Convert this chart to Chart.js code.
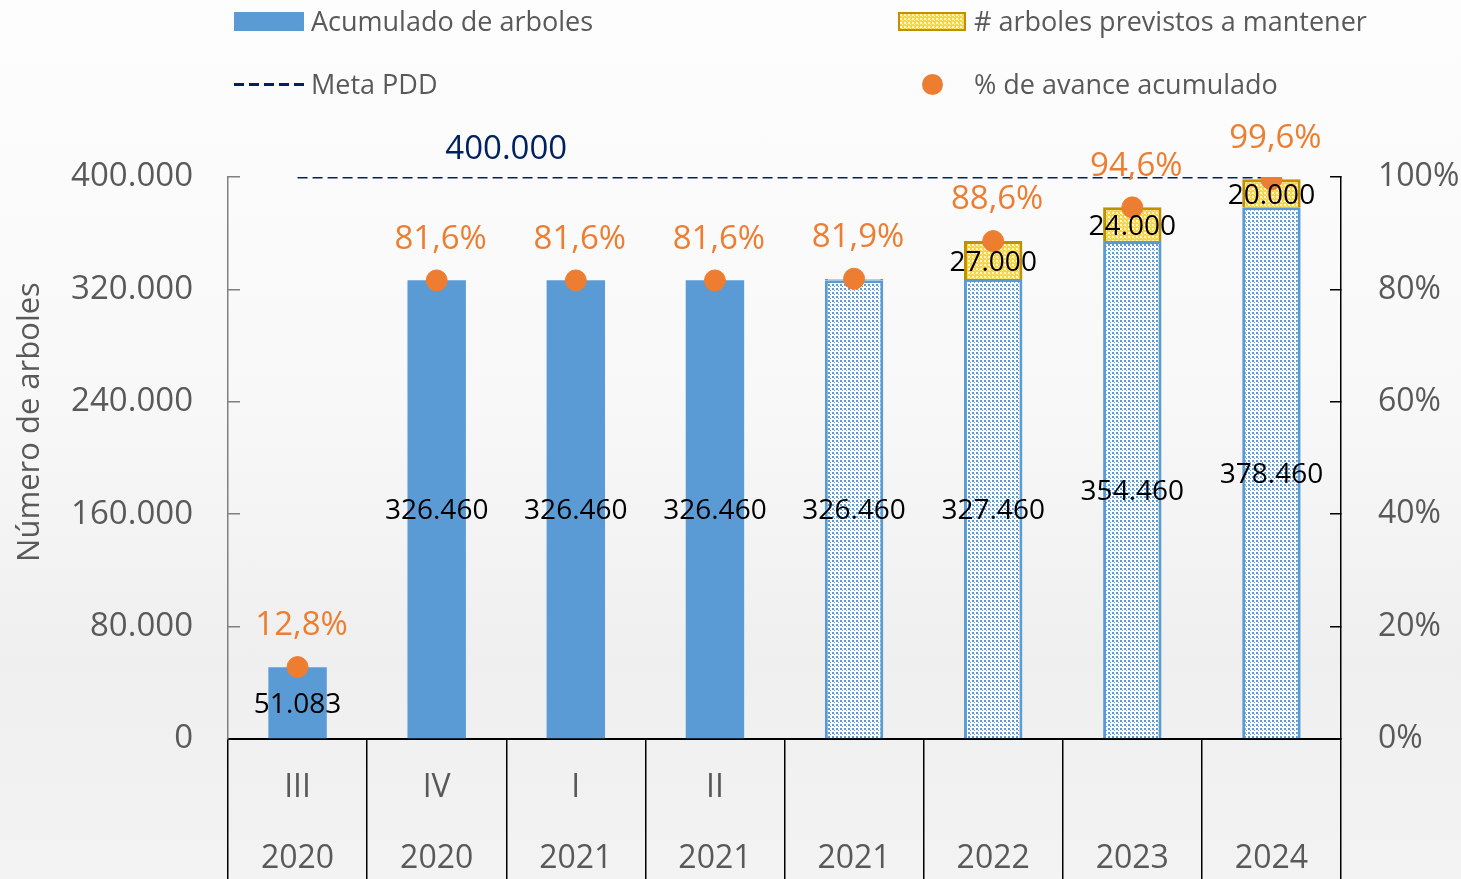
<!DOCTYPE html>
<html lang="es">
<head>
  <meta charset="UTF-8" />
  <title>Avance de arboles</title>
  <script src="https://cdn.jsdelivr.net/npm/chart.js"></script>
  <style>
    html, body {
      margin: 0;
      padding: 0;
    }
    body {
      width: 1461px;
      height: 879px;
      overflow: hidden;
      font-family: "Open Sans", sans-serif;
      background: linear-gradient(180deg, #fdfdfd 0%, #f8f8f8 45%, #efefef 75%, #f3f3f3 100%);
    }
    #wrap {
      position: relative;
      width: 1461px;
      height: 879px;
    }
    .ley {
      position: absolute;
      font-size: 27px;
      color: #595959;
      line-height: 1;
      white-space: nowrap;
    }
    .muestra {
      position: absolute;
    }
  </style>
</head>
<body>
  <div id="wrap">
    <canvas id="grafico" width="1461" height="879"></canvas>

    <div class="muestra" style="left:234px;top:12px;width:70px;height:19px;background:#5b9bd5;"></div>
    <div class="ley" style="left:311px;top:7px;">Acumulado de arboles</div>

    <div class="muestra" id="muestraAmarilla" style="left:898px;top:12px;width:64px;height:15px;border:2px solid #bf9000;"></div>
    <div class="ley" style="left:974px;top:7px;"># arboles previstos a mantener</div>

    <div class="muestra" style="left:234px;top:83px;width:72px;height:3px;background:repeating-linear-gradient(90deg, #002060 0 10px, transparent 10px 15px);"></div>
    <div class="ley" style="left:311px;top:70px;">Meta PDD</div>

    <div class="muestra" style="left:922px;top:74px;width:21px;height:21px;border-radius:50%;background:#ed7d31;"></div>
    <div class="ley" style="left:974px;top:70px;">% de avance acumulado</div>
  </div>

  <script>
    const periodos = [["III", "2020"], ["IV", "2020"], ["I", "2021"], ["II", "2021"], ["", "2021"], ["", "2022"], ["", "2023"], ["", "2024"]];
    const acumulado = [51083, 326460, 326460, 326460, 326460, 327460, 354460, 378460];
    const previstos = [null, null, null, null, 1000, 27000, 24000, 20000];
    const meta = [400000, 400000, 400000, 400000, 400000, 400000, 400000, 400000];
    const avance = [0.128, 0.816, 0.816, 0.816, 0.819, 0.886, 0.946, 0.996];
    const proyectado = [false, false, false, false, true, true, true, true];

    const AZUL = "#5b9bd5";
    const AMARILLO = "#ffd23f";
    const ORO = "#bf9000";
    const NARANJA = "#ed7d31";
    const MARINO = "#002060";
    const GRIS = "#595959";
    const FUENTE = "'Open Sans', sans-serif";

    function miles(v) {
      return String(Math.round(v)).replace(/\B(?=(\d{3})+(?!\d))/g, ".");
    }
    function porcentaje(v) {
      return (v * 100).toFixed(1).replace(".", ",") + "%";
    }

    function lienzoPatron(fondo, punto) {
      const c = document.createElement("canvas");
      c.width = 4;
      c.height = 4;
      const g = c.getContext("2d");
      g.fillStyle = fondo;
      g.fillRect(0, 0, 4, 4);
      g.fillStyle = punto;
      g.fillRect(0, 0, 2, 2);
      g.fillRect(2, 2, 1, 1);
      return c;
    }

    const ctx = document.getElementById("grafico").getContext("2d");
    const patronAzul = ctx.createPattern(lienzoPatron("#ffffff", AZUL), "repeat");
    const lienzoAmarillo = lienzoPatron(AMARILLO, "#fff6cc");
    const patronAmarillo = ctx.createPattern(lienzoAmarillo, "repeat");
    document.getElementById("muestraAmarilla").style.background = "url(" + lienzoAmarillo.toDataURL() + ")";

    const etiquetas = {
      id: "etiquetas",
      afterDatasetsDraw(chart) {
        const c = chart.ctx;
        const x = chart.scales.x;
        const y = chart.scales.y;
        c.save();
        c.textAlign = "center";
        c.textBaseline = "middle";

        // valores acumulados
        c.fillStyle = "#000000";
        c.font = "28px " + FUENTE;
        chart.getDatasetMeta(0).data.forEach((el, i) => {
          c.fillText(miles(acumulado[i]), el.x, (el.y + el.base) / 2 + 2);
        });
        // arboles previstos
        chart.getDatasetMeta(1).data.forEach((el, i) => {
          if (previstos[i] == null || Math.abs(el.base - el.y) < 20) return;
          c.fillText(miles(previstos[i]), el.x, (el.y + el.base) / 2 + 3);
        });

        // % de avance
        c.fillStyle = NARANJA;
        c.font = "33px " + FUENTE;
        chart.getDatasetMeta(3).data.forEach((el, i) => {
          c.fillText(porcentaje(avance[i]), el.x + 4, el.y - 41);
        });

        // meta
        c.fillStyle = MARINO;
        c.font = "33px " + FUENTE;
        c.fillText(miles(meta[0]), x.getPixelForValue(1.5), y.getPixelForValue(meta[0]) - 27);

        // titulo eje y
        c.translate(30, 422);
        c.rotate(-Math.PI / 2);
        c.fillStyle = GRIS;
        c.font = "31px " + FUENTE;
        c.fillText("Número de arboles", 0, 0);
        c.restore();
      }
    };

    new Chart(ctx, {
      data: {
        labels: periodos,
        datasets: [
          {
            type: "bar",
            label: "Acumulado de arboles",
            data: acumulado,
            yAxisID: "y",
            stack: "arboles",
            backgroundColor: proyectado.map(p => p ? patronAzul : AZUL),
            borderColor: AZUL,
            borderWidth: proyectado.map(p => p ? 3 : 0),
            order: 2
          },
          {
            type: "bar",
            label: "# arboles previstos a mantener",
            data: previstos,
            yAxisID: "y",
            stack: "arboles",
            backgroundColor: patronAmarillo,
            borderColor: ORO,
            borderWidth: 3,
            order: 3
          },
          {
            type: "line",
            label: "Meta PDD",
            data: meta,
            yAxisID: "y",
            borderColor: MARINO,
            borderWidth: 3,
            borderDash: [10, 5],
            pointRadius: 0,
            fill: false,
            order: 1
          },
          {
            type: "line",
            label: "% de avance acumulado",
            data: avance,
            yAxisID: "y1",
            showLine: false,
            pointRadius: 10.5,
            pointBackgroundColor: NARANJA,
            pointBorderColor: NARANJA,
            order: 0
          }
        ]
      },
      options: {
        responsive: false,
        animation: false,
        layout: { padding: { top: 177, left: 0, right: 0, bottom: 0 } },
        datasets: {
          bar: { categoryPercentage: 1, barPercentage: 0.42 }
        },
        plugins: {
          legend: { display: false },
          tooltip: { enabled: false }
        },
        scales: {
          x: {
            stacked: true,
            afterFit(s) { s.height = 140; },
            border: { color: "#000000", width: 2 },
            grid: {
              offset: true,
              drawOnChartArea: false,
              drawTicks: true,
              tickLength: 140,
              color: "#000000",
              lineWidth: 1.5
            },
            ticks: {
              color: GRIS,
              padding: -126,
              maxRotation: 0,
              autoSkip: false,
              font: { family: FUENTE, size: 32, lineHeight: 2.2 }
            }
          },
          y: {
            stacked: true,
            position: "left",
            min: 0,
            max: 400000,
            afterFit(s) { s.width = 228; },
            border: { color: "#808080", width: 1.5 },
            grid: {
              drawOnChartArea: false,
              drawTicks: true,
              tickLength: -12,
              color: "#808080",
              lineWidth: 1.5
            },
            ticks: {
              stepSize: 80000,
              color: GRIS,
              padding: 47,
              font: { family: FUENTE, size: 33 },
              callback: v => miles(v)
            }
          },
          y1: {
            position: "right",
            min: 0,
            max: 1,
            afterFit(s) { s.width = 120; },
            border: { color: "#000000", width: 1.5 },
            grid: {
              drawOnChartArea: false,
              drawTicks: true,
              tickLength: -11,
              color: "#000000",
              lineWidth: 1.5
            },
            ticks: {
              stepSize: 0.2,
              color: GRIS,
              padding: 48,
              font: { family: FUENTE, size: 32 },
              callback: v => Math.round(v * 100) + "%"
            }
          }
        }
      },
      plugins: [etiquetas]
    });
  </script>
</body>
</html>
